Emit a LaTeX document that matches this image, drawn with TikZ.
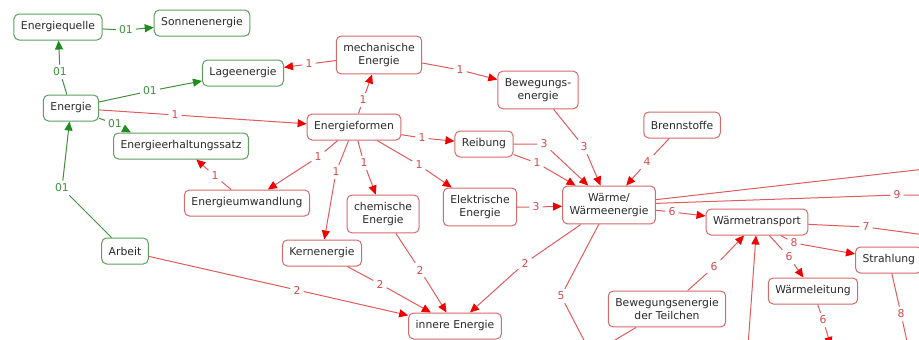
\documentclass[tikz,border=0pt]{standalone}
\usepackage{fontspec}
\setmainfont{DejaVu Sans}
\usepackage{tikz}
\usetikzlibrary{arrows.meta,positioning}
\usepackage{xcolor}
\definecolor{gframe}{HTML}{5E9E5E}
\definecolor{gline}{HTML}{3F8F3F}
\definecolor{ghead}{HTML}{1E8C1E}
\definecolor{rframe}{HTML}{D46A6A}
\definecolor{rline}{HTML}{E05C5C}
\definecolor{rtext}{HTML}{D44A4A}
\definecolor{rhead}{HTML}{F00000}
\definecolor{ink}{HTML}{2A2A2A}

\tikzset{
  concept/.style={draw, rounded corners=5pt, fill=white, text=ink, align=center,
    font=\fontsize{10.8}{13.5}\selectfont, inner xsep=7pt, inner ysep=7pt,
    minimum height=26pt, line width=1pt},
  gconcept/.style={concept, draw=gframe},
  rconcept/.style={concept, draw=rframe},
  glabel/.style={text=gline, font=\fontsize{10.8}{13}\selectfont, inner sep=3pt},
  rlabel/.style={text=rtext, font=\fontsize{10.8}{13}\selectfont, inner sep=3pt},
  glink/.style={draw=gline, line width=1pt, -{Triangle[length=9pt,width=8pt,color=ghead]}},
  rlink/.style={draw=rline, line width=1pt, -{Triangle[length=9pt,width=8pt,color=rhead]}},
  rplain/.style={draw=rline, line width=1pt}
}

\begin{document}
\begin{tikzpicture}[x=1pt,y=-1pt]
  \useasboundingbox (0,0) rectangle (919,340);
  \clip (0,0) rectangle (919,340);

  % green concepts
  \node[gconcept] (quelle) at (58,27) {Energiequelle};
  \node[gconcept] (sonne) at (202,23) {Sonnenenergie};
  \node[gconcept] (lage) at (243,73) {Lageenergie};
  \node[gconcept] (energie) at (71,108) {Energie};
  \node[gconcept] (erhalt) at (181,146) {Energieerhaltungssatz};
  \node[gconcept] (arbeit) at (125,251) {Arbeit};

  % red concepts
  \node[rconcept] (mech) at (379,55) {mechanische\\Energie};
  \node[rconcept] (beweg) at (538,90) {Bewegungs-\\energie};
  \node[rconcept] (formen) at (354,127) {Energieformen};
  \node[rconcept] (reibung) at (484,144) {Reibung};
  \node[rconcept] (brenn) at (682,125) {Brennstoffe};
  \node[rconcept] (umwandl) at (247,203) {Energieumwandlung};
  \node[rconcept] (chem) at (383,214) {chemische\\Energie};
  \node[rconcept] (elektr) at (480,207) {Elektrische\\Energie};
  \node[rconcept] (waerme) at (609,205) {Wärme/\\Wärmeenergie};
  \node[rconcept] (kern) at (322,253) {Kernenergie};
  \node[rconcept] (transport) at (757,222) {Wärmetransport};
  \node[rconcept, anchor=west] (strahlung) at (855,260) {Strahlung};
  \node[rconcept] (leitung) at (813,291) {Wärmeleitung};
  \node[rconcept] (teilchen) at (667,309) {Bewegungsenergie\\der Teilchen};
  \node[rconcept] (innere) at (455,326) {innere Energie};

  % free ends at the edges
  \coordinate (offwa) at (925,169);
  \coordinate (offwb) at (925,195);
  \coordinate (offwc) at (587,346);
  \coordinate (offtr) at (925,235);
  \coordinate (offte) at (605,346);
  \coordinate (offbo) at (748,346);
  \coordinate (offle) at (831,346);
  \coordinate (offst) at (908,346);

  % green links
  \node[glabel] (g1) at (60,72) {01};
  \node[glabel] (g2) at (126,30) {01};
  \node[glabel] (g3) at (150,91) {01};
  \node[glabel] (g4) at (115,124) {01};
  \node[glabel] (g5) at (62,188) {01};
  \draw[glink] (energie) -- (g1) -- (quelle);
  \draw[glink] (quelle) -- (g2) -- (sonne);
  \draw[glink] (energie) -- (g3) -- (lage);
  \draw[glink] (energie) -- (g4) -- ([xshift=-50pt]erhalt.north);
  \draw[glink] (arbeit) -- (g5) -- (energie);

  % red links from Energie and Energieformen
  \node[rlabel] (r1) at (175,115) {1};
  \node[rlabel] (r2) at (309,64) {1};
  \node[rlabel] (r3) at (363,100) {1};
  \node[rlabel] (r4) at (460,70) {1};
  \node[rlabel] (r5) at (422,138) {1};
  \node[rlabel] (r6) at (318,157) {1};
  \node[rlabel] (r7) at (215,176) {1};
  \node[rlabel] (r8) at (336,172) {1};
  \node[rlabel] (r9) at (364,163) {1};
  \node[rlabel] (r10) at (419,165) {1};
  \draw[rlink] (energie) -- (r1) -- (formen);
  \draw[rlink] (mech) -- (r2) -- (lage);
  \draw[rlink] (formen) -- (r3) -- (mech);
  \draw[rlink] (mech) -- (r4) -- (beweg);
  \draw[rlink] (formen) -- (r5) -- (reibung);
  \draw[rlink] (formen) -- (r6) -- (umwandl);
  \draw[rlink] (umwandl) -- (r7) -- (erhalt);
  \draw[rlink] (formen) -- (r8) -- (kern);
  \draw[rlink] (formen) -- (r9) -- (chem);
  \draw[rlink] (formen) -- (r10) -- (elektr);

  % red links to Wärme
  \node[rlabel] (w1) at (544,144) {3};
  \node[rlabel] (w2) at (537,163) {1};
  \node[rlabel] (w3) at (584,147) {3};
  \node[rlabel] (w4) at (647,162) {4};
  \node[rlabel] (w5) at (536,207) {3};
  \draw[rlink] (reibung) -- (w1) -- (waerme);
  \draw[rlink] (reibung) -- (w2) -- (waerme);
  \draw[rlink] (beweg) -- (w3) -- (waerme);
  \draw[rlink] (brenn) -- (w4) -- (waerme);
  \draw[rlink] (elektr) -- (w5) -- (waerme);

  % red links to innere Energie
  \node[rlabel] (i1) at (525,263) {2};
  \node[rlabel] (i2) at (420,270) {2};
  \node[rlabel] (i3) at (380,284) {2};
  \node[rlabel] (i4) at (297,290) {2};
  \draw[rlink] (waerme) -- (i1) -- (innere);
  \draw[rlink] (chem) -- (i2) -- (innere);
  \draw[rlink] (kern) -- (i3) -- (innere);
  \draw[rlink] (arbeit) -- (i4) -- (innere);

  % red links from Wärme and Wärmetransport
  \node[rlabel] (t1) at (561,296) {5};
  \node[rlabel] (t2) at (897,195) {9};
  \node[rlabel] (t3) at (672,212) {6};
  \node[rlabel] (t4) at (866,227) {7};
  \node[rlabel] (t5) at (794,243) {8};
  \node[rlabel] (t6) at (789,257) {6};
  \node[rlabel] (t7) at (714,267) {6};
  \node[rlabel] (t8) at (823,320) {6};
  \node[rlabel] (t9) at (901,314) {8};
  \draw[rplain] (waerme) -- (t1) -- (offwc);
  \draw[rplain] (waerme) -- (offwa);
  \draw[rplain] (waerme) -- (t2) -- (offwb);
  \draw[rlink] (waerme) -- (t3) -- (transport);
  \draw[rplain] (transport) -- (t4) -- (offtr);
  \draw[rlink] (transport) -- (t5) -- (strahlung);
  \draw[rlink] (transport) -- (t6) -- (leitung);
  \draw[rlink] (teilchen) -- (t7) -- (transport);
  \draw[rlink] (offbo) -- (transport);
  \draw[rplain] (teilchen) -- (offte);
  \draw[rlink] (leitung) -- (t8) -- (offle);
  \draw[rplain] (strahlung) -- (t9) -- (offst);
\end{tikzpicture}
\end{document}
